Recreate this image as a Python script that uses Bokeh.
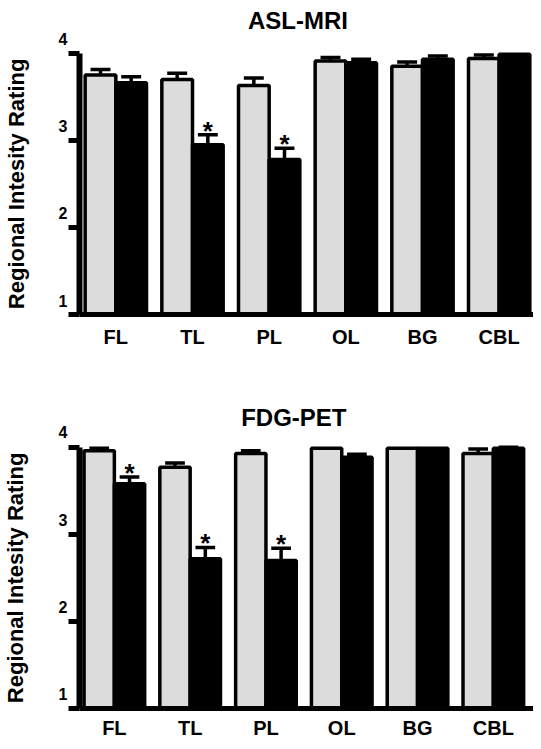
from bokeh.plotting import figure
from bokeh.models import FixedTicker, Label, Range1d, LinearAxis
from bokeh.layouts import column, row
from bokeh.embed import file_html
from bokeh.resources import INLINE
from bokeh.core.properties import value
import numpy as np

categories = ["FL", "TL", "PL", "OL", "BG", "CBL"]
y_ticks = [1, 2, 3, 4]
y_title = "Regional Intesity Rating"

# ASL-MRI: controls (gray) and patients (black)
asl_ctrl = [3.75, 3.70, 3.63, 3.91, 3.85, 3.94]
asl_ctrl_err = [0.065, 0.07, 0.085, 0.04, 0.05, 0.04]
asl_pt = [3.66, 2.95, 2.78, 3.89, 3.93, 3.99]
asl_pt_err = [0.07, 0.115, 0.13, 0.04, 0.04, 0.0]
asl_sig = [False, True, True, False, False, False]

# FDG-PET
fdg_ctrl = [3.96, 3.77, 3.93, 3.99, 3.99, 3.93]
fdg_ctrl_err = [0.03, 0.05, 0.03, 0.0, 0.0, 0.05]
fdg_pt = [3.58, 2.72, 2.70, 3.885, 3.99, 3.99]
fdg_pt_err = [0.08, 0.13, 0.14, 0.035, 0.0, 0.01]
fdg_sig = [True, True, True, False, False, False]

FONT = "Liberation Sans"
GRAY = "#dcdcdc"
BW = 0.40
LW = 55          # width of the strip holding the rotated y-axis title


def panel(title, ctrl, ctrl_err, pt, pt_err, sig, x_start, x_end, y_end, height,
          b_bottom, b_left, title_dx, title_dy, xl_standoff, lab_shift, ylab_x):
    yr = Range1d(1, y_end)
    p = figure(width=533 - LW, height=height, x_range=Range1d(x_start, x_end),
               y_range=yr, output_backend="svg", toolbar_location=None,
               min_border_top=0, min_border_bottom=b_bottom,
               min_border_left=b_left, min_border_right=0)
    p.title.visible = False
    p.outline_line_color = None
    p.xgrid.visible = False
    p.ygrid.visible = False

    n = len(categories)
    idx = np.arange(n, dtype=float)
    ctrl = np.array(ctrl); pt = np.array(pt)
    ctrl_err = np.array(ctrl_err); pt_err = np.array(pt_err)
    xc = idx - BW / 2
    xp = idx + BW / 2

    p.vbar(x=xc, top=ctrl, bottom=0.9, width=BW, fill_color=GRAY,
           line_color="black", line_width=3.5)
    p.vbar(x=xp, top=pt, bottom=0.9, width=BW, fill_color="black",
           line_color="black", line_width=3.5)

    xs = np.concatenate([xc, xp])
    vals = np.concatenate([ctrl, pt])
    errs = np.concatenate([ctrl_err, pt_err])
    m = errs > 0
    xs, vals, errs = xs[m], vals[m], errs[m]
    p.segment(x0=xs, y0=vals, x1=xs, y1=vals + errs, line_color="black", line_width=3.5)
    cap = 0.13
    p.segment(x0=xs - cap, y0=vals + errs, x1=xs + cap, y1=vals + errs,
              line_color="black", line_width=3.5)

    s = np.array(sig)
    p.text(x=xp[s], y=(pt + pt_err)[s], text=["*"] * int(s.sum()),
           text_align="center", text_baseline="alphabetic", y_offset=-4,
           text_font=value(FONT), text_font_style="bold", text_font_size="26px",
           text_color="black")

    # chart title (inside the frame area, above the plotted data)
    p.add_layout(Label(x=(n - 1) / 2, y=y_ticks[-1], text=title,
                       x_offset=title_dx, y_offset=title_dy,
                       text_align="center", text_baseline="alphabetic",
                       text_font=FONT, text_font_style="bold",
                       text_font_size="24px", text_color="black"))

    # x axis
    xa = p.xaxis[0]
    xa.ticker = FixedTicker(ticks=list(range(n)))
    xa.major_label_overrides = {i: c for i, c in enumerate(categories)}
    xa.major_tick_out = 0
    xa.major_tick_in = 0
    xa.minor_tick_line_color = None
    xa.axis_line_width = 5
    xa.axis_line_color = "black"
    xa.major_label_standoff = xl_standoff
    xa.major_label_text_font = FONT
    xa.major_label_text_font_style = "bold"
    xa.major_label_text_font_size = "20px"
    xa.major_label_text_color = "black"

    # y axis: line + tick marks
    ya = p.yaxis[0]
    ya.ticker = FixedTicker(ticks=y_ticks)
    ya.bounds = (y_ticks[0], y_ticks[-1])
    ya.major_label_overrides = {t: "" for t in y_ticks}
    ya.major_label_standoff = 0
    ya.minor_tick_line_color = None
    ya.major_tick_out = 11
    ya.major_tick_in = 0
    ya.major_tick_line_width = 5
    ya.axis_line_width = 6

    # y axis: tick labels (drawn slightly above their tick marks)
    lab_pos = [t + lab_shift for t in y_ticks]
    yb = LinearAxis(ticker=FixedTicker(ticks=lab_pos))
    yb.major_label_overrides = {lp: str(t) for lp, t in zip(lab_pos, y_ticks)}
    yb.axis_line_color = None
    yb.major_tick_line_color = None
    yb.minor_tick_line_color = None
    yb.major_tick_out = 0
    yb.major_tick_in = 0
    yb.major_label_standoff = 1
    yb.major_label_text_font = FONT
    yb.major_label_text_font_style = "bold"
    yb.major_label_text_font_size = "16px"
    yb.major_label_text_color = "black"
    p.add_layout(yb, "left")

    # strip with the rotated y-axis title, sharing the y range
    q = figure(width=LW, height=height, x_range=Range1d(0, LW), y_range=yr,
               x_axis_type=None, y_axis_type=None, output_backend="svg",
               toolbar_location=None, min_border_top=0, min_border_bottom=b_bottom,
               min_border_left=0, min_border_right=0)
    q.title.visible = False
    q.outline_line_color = None
    q.add_layout(Label(x=ylab_x, y=(y_ticks[0] + y_ticks[-1]) / 2, text=y_title,
                       angle=90, angle_units="deg",
                       text_align="center", text_baseline="middle",
                       text_font=FONT, text_font_style="bold",
                       text_font_size="22px", text_color="black"))
    return row(q, p, spacing=0)


r1 = panel("ASL-MRI", asl_ctrl, asl_ctrl_err, asl_pt, asl_pt_err, asl_sig,
           -0.474, 5.448, 4.606, 380, 66, 22, -9.5, 32.4, 11, 0.16, 16)
r2 = panel("FDG-PET", fdg_ctrl, fdg_ctrl_err, fdg_pt, fdg_pt_err, fdg_sig,
           -0.46, 5.53, 4.767, 361, 32, 21, -10, 30, 8, 0.17, 14.5)

layout = column(r1, r2, spacing=0, margin=(0, 0, -8, 0))
open("out.html", "w").write(file_html(layout, INLINE))
